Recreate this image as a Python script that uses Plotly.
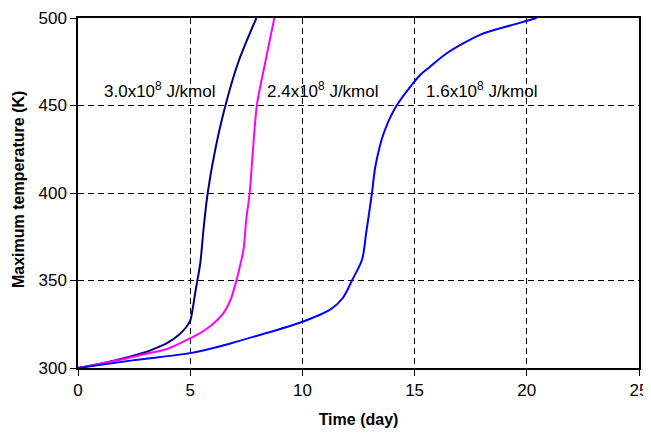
import plotly.graph_objects as go

# Data
navy_x = [0, 1, 2, 3, 3.5, 4, 4.5, 4.8, 5, 5.1, 5.25, 5.45, 5.6, 5.78, 6.12, 6.57, 7.15, 7.95]
navy_y = [300, 302.5, 305.5, 309, 311.5, 314.5, 319, 323, 327, 333, 345, 360, 380, 400, 425, 450, 475, 500]

mag_x = [0, 1, 2, 3, 4, 5, 5.45, 6, 6.49, 6.8, 7.06, 7.25, 7.38, 7.5, 7.65, 7.8, 7.97, 8.35, 8.75]
mag_y = [300, 302.5, 305, 308, 311, 317, 320, 325, 331.5, 339, 350, 360, 368, 385, 400, 425, 450, 475, 500]

blue_x = [0, 2.5, 5, 6.34, 8, 9.91, 11.25, 11.8, 12.21, 12.66, 12.84, 13.1, 13.25, 13.62, 14.2, 15.26, 15.7, 16.45, 17.94, 19.4, 20.44]
blue_y = [300, 304.5, 308.5, 312.4, 318.5, 326, 333.5, 340, 350, 362, 377, 400, 415, 434, 450, 467.6, 472.3, 480, 490.5, 496.2, 500]

labels = ["3.0x10<sup>8</sup> J/kmol", "2.4x10<sup>8</sup> J/kmol", "1.6x10<sup>8</sup> J/kmol"]
label_x = [1.08, 8.35, 15.4]
label_y = [459, 459, 459]

x_ticks = [0, 5, 10, 15, 20, 25]
y_ticks = [300, 350, 400, 450, 500]

x_title = "<b>Time (day)</b>"
y_title = "<b>Maximum temperature (K)</b>"

FONT = "Liberation Sans, Arial, sans-serif"

fig = go.Figure()
for xs, ys, col in [(navy_x, navy_y, "#000080"), (mag_x, mag_y, "#ff00ff"), (blue_x, blue_y, "#0000ff")]:
    fig.add_trace(go.Scatter(x=xs, y=ys, mode="lines",
                             line=dict(color=col, width=2, shape="spline", smoothing=0.8),
                             showlegend=False, hoverinfo="skip"))

for t, x, y in zip(labels, label_x, label_y):
    fig.add_annotation(x=x, y=y, text=t, showarrow=False, xanchor="left", yanchor="middle",
                       font=dict(family=FONT, size=17, color="black"))

# y-axis title placed as rotated text left of the tick labels
fig.add_annotation(xref="paper", yref="paper", x=0, y=0.5, xshift=-60, yshift=3,
                   text=y_title, textangle=-90, showarrow=False,
                   xanchor="center", yanchor="middle",
                   font=dict(family=FONT, size=16, color="black"))

axis_common = dict(
    showline=True, linecolor="black", linewidth=1.5, mirror=True,
    ticks="outside", ticklen=6, tickcolor="black", tickwidth=1,
    showgrid=True, gridcolor="black", gridwidth=1, griddash="6px,4px",
    zeroline=False, automargin=False,
    tickfont=dict(family=FONT, size=17, color="black"),
)

fig.update_xaxes(range=[0, 25], tickvals=x_ticks,
                 title=dict(text=x_title, font=dict(family=FONT, size=16, color="black")),
                 **axis_common)
fig.update_yaxes(range=[300, 500], tickvals=y_ticks, ticksuffix="\u00a0\u2009",
                 **axis_common)

# The page body adds an 8px offset; size the figure so the plot area lands where the reference has it
fig.update_layout(
    width=643, height=425,
    margin=dict(l=70, r=12, t=10, b=65),
    plot_bgcolor="white", paper_bgcolor="white",
    showlegend=False,
)

fig.write_html("out.html")
